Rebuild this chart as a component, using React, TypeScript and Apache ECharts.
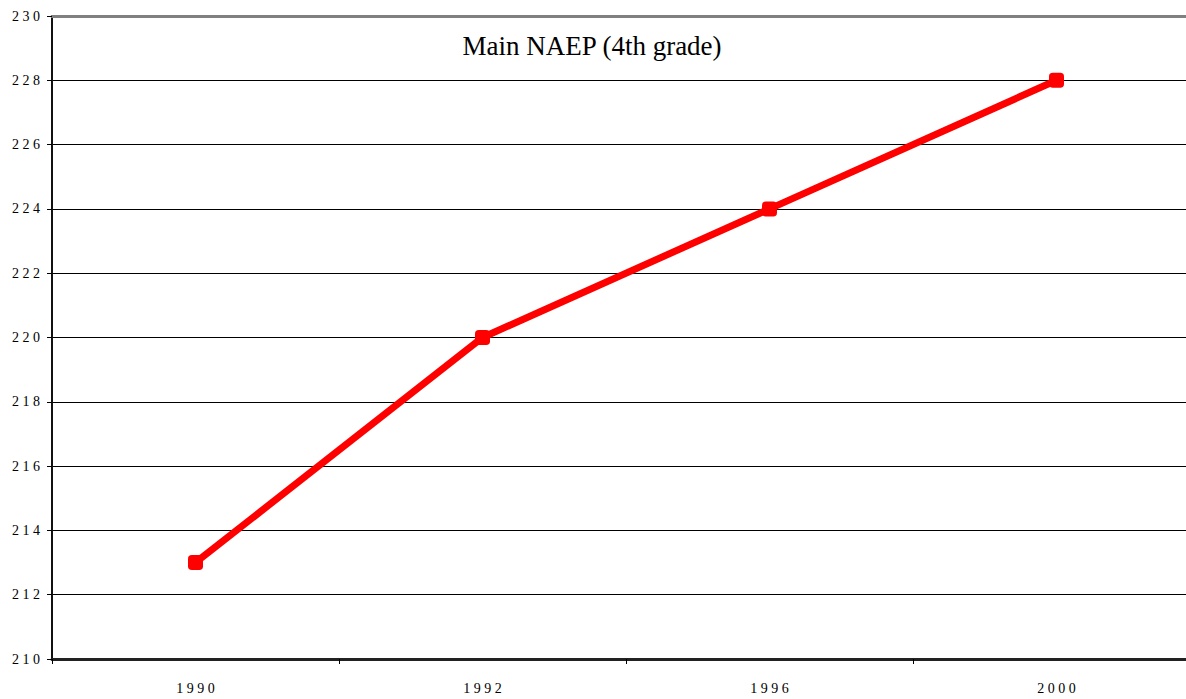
import React, { useEffect, useRef } from "react";
import * as echarts from "echarts";

const years = ["1990", "1992", "1996", "2000"];
const scores = [213, 220, 224, 228];
const titleText = "Main NAEP (4th grade)";

const spaced = (s: string) => s.split("").join(" ");
const serif = "'Liberation Serif', 'Times New Roman', serif";

export default function App() {
  const ref = useRef<HTMLDivElement>(null);
  useEffect(() => {
    document.body.style.margin = "0";
    const chart = echarts.init(ref.current!, null, { renderer: "svg" });
    chart.setOption({
      animation: false,
      backgroundColor: "#ffffff",
      title: {
        text: titleText,
        left: 587,
        textAlign: "center",
        top: 27,
        textStyle: {
          fontFamily: serif,
          fontWeight: "normal",
          fontSize: 27,
          color: "#000",
        },
      },
      grid: { left: 52, top: 16, width: 1148, height: 643, containLabel: false },
      xAxis: [
        {
          type: "category",
          data: years,
          boundaryGap: true,
          axisLine: { lineStyle: { color: "#222", width: 3 } },
          axisTick: { show: true, length: 5, lineStyle: { color: "#000", width: 1 } },
          axisLabel: {
            formatter: (v: string) => spaced(v),
            fontFamily: serif,
            fontSize: 14,
            color: "#000",
            margin: 22,
          },
          splitLine: { show: false },
        },
        {
          type: "category",
          data: years,
          position: "top",
          axisLine: { lineStyle: { color: "#808080", width: 3 } },
          axisTick: { show: false },
          axisLabel: { show: false },
        },
      ],
      yAxis: {
        type: "value",
        min: 210,
        max: 230,
        interval: 2,
        axisLine: { show: true, lineStyle: { color: "#111", width: 2 } },
        axisTick: { show: true, length: 5, lineStyle: { color: "#000", width: 1 } },
        axisLabel: {
          formatter: (v: number) => spaced(String(v)),
          fontFamily: serif,
          fontSize: 14,
          color: "#000",
          margin: 12,
        },
        splitLine: { show: true, lineStyle: { color: "#000", width: 1 } },
      },
      series: [
        {
          type: "line",
          data: scores,
          lineStyle: { color: "#ff0000", width: 7 },
          itemStyle: { color: "#ff0000", borderRadius: 2 },
          symbol: "roundRect",
          symbolSize: 15,
          showSymbol: true,
        },
      ],
    });
    return () => chart.dispose();
  }, []);
  return (
    <div style={{ width: 1186, height: 699, overflow: "hidden" }}>
      <div ref={ref} style={{ width: 1210, height: 699 }} />
    </div>
  );
}
